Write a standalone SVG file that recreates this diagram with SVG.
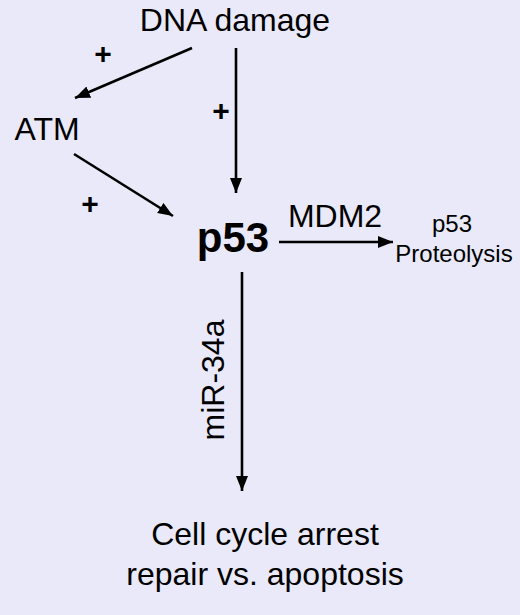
<svg xmlns="http://www.w3.org/2000/svg" width="520" height="615" viewBox="0 0 520 615">
<style>
text{font-family:"Liberation Sans",Arial,sans-serif;fill:#000}
.lbl{font-size:32px}
.sm{font-size:24px}
.plus{font-size:30px;font-weight:bold}
.edge{stroke:#000;stroke-width:2.6;fill:none}
</style>
<defs>
<marker id="ah" markerUnits="userSpaceOnUse" markerWidth="16" markerHeight="14" refX="15" refY="6" orient="auto">
<path d="M0,0 L15,6 L0,12 Z" fill="#000"/>
</marker>
</defs>
<rect width="520" height="615" fill="#e9e9f9"/>
<g id="connectors">
<line class="edge" x1="192" y1="48" x2="75" y2="98" marker-end="url(#ah)"/>
<line class="edge" x1="236" y1="48" x2="236" y2="193" marker-end="url(#ah)"/>
<line class="edge" x1="74" y1="154" x2="173" y2="216" marker-end="url(#ah)"/>
<line class="edge" x1="279" y1="242" x2="393" y2="242" marker-end="url(#ah)"/>
<line class="edge" x1="242" y1="272" x2="242" y2="491" marker-end="url(#ah)"/>
<text class="plus" x="103" y="64" text-anchor="middle">+</text>
<text class="plus" x="221" y="121" text-anchor="middle">+</text>
<text class="plus" x="90" y="214" text-anchor="middle">+</text>
<text class="lbl" x="335" y="227" text-anchor="middle">MDM2</text>
<text class="lbl" transform="translate(224,380) rotate(-90)" text-anchor="middle">miR-34a</text>
</g>
<g id="dna-damage"><text class="lbl" x="235" y="31" text-anchor="middle">DNA damage</text></g>
<g id="atm"><text class="lbl" x="47" y="140" text-anchor="middle">ATM</text></g>
<g id="p53"><text x="233" y="252" text-anchor="middle" style="font-size:42px;font-weight:bold">p53</text></g>
<g id="proteolysis">
<text class="sm" x="452" y="232" text-anchor="middle">p53</text>
<text class="sm" x="454" y="262" text-anchor="middle">Proteolysis</text>
</g>
<g id="outcome">
<text class="lbl" x="265" y="545" text-anchor="middle">Cell cycle arrest</text>
<text class="lbl" x="265" y="585" text-anchor="middle">repair vs. apoptosis</text>
</g>
</svg>
